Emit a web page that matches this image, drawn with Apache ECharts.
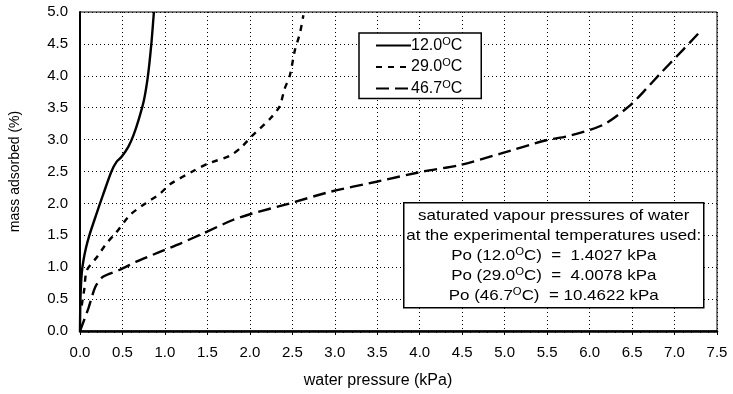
<!DOCTYPE html>
<html>
<head>
<meta charset="utf-8">
<script src="https://cdn.jsdelivr.net/npm/echarts@6/dist/echarts.min.js"></script>
<style>
  html, body { margin: 0; padding: 0; background: #fff; }
  #chart { width: 733px; height: 394px; }
</style>
</head>
<body>
<div id="chart"></div>
<script>
// Water sorption isotherms: mass adsorbed (%) against water pressure (kPa)
const p12 = [0, 0.005, 0.02, 0.04, 0.07, 0.11, 0.19, 0.27, 0.37, 0.43, 0.49, 0.57, 0.63, 0.69, 0.75, 0.80, 0.84, 0.87];
const m12 = [0, 0.5, 0.9, 1.1, 1.3, 1.5, 1.82, 2.13, 2.5, 2.65, 2.73, 2.89, 3.07, 3.31, 3.6, 4.0, 4.5, 5.0];

const p29 = [0.02, 0.05, 0.08, 0.2, 0.31, 0.43, 0.59, 0.77, 0.94, 1.06, 1.35, 1.5, 1.77, 1.9, 2.02, 2.24, 2.35, 2.41, 2.47, 2.53, 2.59, 2.63];
const m29 = [0.4, 0.65, 0.95, 1.16, 1.37, 1.55, 1.82, 2.0, 2.15, 2.3, 2.52, 2.62, 2.75, 2.88, 3.05, 3.33, 3.52, 3.8, 4.0, 4.4, 4.67, 4.95];

const p47 = [0, 0.02, 0.1, 0.18, 0.27, 0.47, 0.67, 0.94, 1.18, 1.45, 1.8, 2.0, 2.47, 2.94, 3.49, 4.04, 4.47, 4.95, 5.49, 5.73, 6.0, 6.2, 6.48, 6.67, 6.85, 7.03, 7.18, 7.32];
const m47 = [0, 0.07, 0.36, 0.69, 0.85, 0.96, 1.09, 1.24, 1.37, 1.53, 1.74, 1.83, 2.0, 2.18, 2.34, 2.5, 2.6, 2.78, 2.99, 3.05, 3.15, 3.26, 3.54, 3.8, 4.06, 4.31, 4.52, 4.72];

const seriesNames = ['12.0', '29.0', '46.7'];
const dashTypes = ['solid', [6, 6], [13, 6]];

const xTicks = [0, 7.5, 0.5];
const yTicks = [0, 5.0, 0.5];

const infoLines = [
  'saturated vapour pressures of water',
  'at the experimental temperatures used:',
  '{t|Po (12.0}{s|O}{t|C)  =  1.4027 kPa}',
  '{t|Po (29.0}{s|O}{t|C)  =  4.0078 kPa}',
  '{t|Po (46.7}{s|O}{t|C)  = 10.4622 kPa}'
];

const FONT = '"Liberation Sans", Arial, sans-serif';

function pairs(xs, ys) { return xs.map((x, i) => [x, ys[i]]); }
const curves = [pairs(p12, m12), pairs(p29, m29), pairs(p47, m47)];

const chart = echarts.init(document.getElementById('chart'), null, { renderer: 'canvas' });

const boxRich = {
  t: { fontSize: 15, fontFamily: FONT, color: '#000' },
  s: { fontSize: 10, fontFamily: FONT, color: '#000', padding: [0, 0, 8, 0] }
};
const legendRich = {
  t: { fontSize: 16, fontFamily: FONT, color: '#000' },
  s: { fontSize: 11, fontFamily: FONT, color: '#000', padding: [0, 0, 8, 0] }
};

chart.setOption({
  animation: false,
  backgroundColor: '#fff',
  grid: {
    left: 80, right: 16, top: 12, bottom: 63,
    show: true, borderColor: '#000', borderWidth: 1
  },
  xAxis: {
    type: 'value',
    min: xTicks[0], max: xTicks[1], interval: xTicks[2],
    name: 'water pressure (kPa)',
    nameLocation: 'middle',
    nameGap: 42,
    nameTextStyle: { fontSize: 16, fontFamily: FONT, color: '#000', padding: [0, 41, 0, 0] },
    axisLine: { show: true, lineStyle: { color: '#000', width: 2.5 } },
    axisTick: { show: true, inside: false, length: 4, lineStyle: { color: '#000', width: 1 } },
    minorTick: { show: true, splitNumber: 5, length: 2, lineStyle: { color: '#000' } },
    axisLabel: { fontSize: 15, fontFamily: FONT, color: '#000', margin: 14, formatter: v => v.toFixed(1) },
    splitLine: { show: true, lineStyle: { color: '#000', width: 1, type: [1, 3] } }
  },
  yAxis: {
    type: 'value',
    min: yTicks[0], max: yTicks[1], interval: yTicks[2],
    name: 'mass adsorbed (%)',
    nameLocation: 'middle',
    nameGap: 58,
    nameTextStyle: { fontSize: 14, fontFamily: FONT, color: '#000' },
    axisLine: { show: true, lineStyle: { color: '#000', width: 2 } },
    axisTick: { show: false },
    axisLabel: { fontSize: 15, fontFamily: FONT, color: '#000', margin: 12, formatter: v => v.toFixed(1) },
    splitLine: { show: true, lineStyle: { color: '#000', width: 1, type: [1, 3] } }
  },
  legend: {
    orient: 'vertical',
    left: 359, top: 33,
    padding: [3, 19, 2, 16],
    itemWidth: 35, itemHeight: 14, itemGap: 4,
    borderColor: '#000', borderWidth: 1.5,
    backgroundColor: '#fff',
    data: seriesNames,
    itemStyle: { opacity: 0 },
    formatter: name => '{t|' + name + '}{s|O}{t|C}',
    textStyle: { rich: legendRich, padding: [0, 0, 0, -5] }
  },
  series: seriesNames.map((name, i) => ({
    name: name,
    type: 'line',
    data: curves[i],
    showSymbol: false,
    symbol: 'none',
    smooth: 0.25,
    z: 3,
    lineStyle: { color: '#000', width: 2.4, type: dashTypes[i] },
    itemStyle: { color: '#000' }
  })),
  graphic: [{
    type: 'group',
    left: 403, top: 202,
    z: 20,
    children: [
      {
        type: 'rect',
        z: 20,
        shape: { x: 0, y: 0, width: 300, height: 105 },
        style: { fill: '#fff', stroke: '#000', lineWidth: 1.5 }
      }
    ].concat(infoLines.map((line, i) => ({
      type: 'text',
      z: 21,
      x: 150, y: 13 + i * 20,
      scaleX: 1.13,
      style: {
        text: line,
        fontSize: 15, fontFamily: FONT, fill: '#000',
        align: 'center', verticalAlign: 'middle',
        rich: boxRich
      }
    })))
  }]
});
</script>
</body>
</html>
